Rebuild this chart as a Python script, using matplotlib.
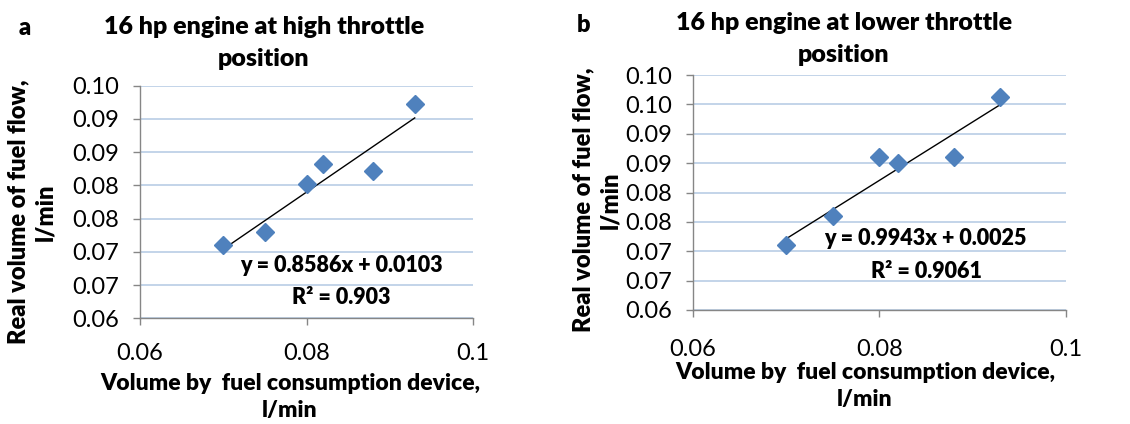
import matplotlib
matplotlib.use("Agg")
import matplotlib.pyplot as plt
import numpy as np

plt.rcParams['font.family'] = ['Lato', 'DejaVu Sans']

# ---- data ----
x_a = [0.070, 0.075, 0.080, 0.082, 0.088, 0.093]
y_a = [0.0711, 0.0730, 0.0802, 0.0832, 0.0821, 0.0922]
slope_a, intercept_a = 0.8586, 0.0103
eq_a = "y = 0.8586x + 0.0103"
r2_a = "R² = 0.903"
title_a = "16 hp engine at high throttle\nposition"

x_b = [0.070, 0.075, 0.080, 0.082, 0.088, 0.093]
y_b = [0.0711, 0.0760, 0.0861, 0.0851, 0.0861, 0.0962]
slope_b, intercept_b = 0.9943, 0.0025
eq_b = "y = 0.9943x + 0.0025"
r2_b = "R² = 0.9061"
title_b = "16 hp engine at lower throttle\nposition"

xticks = [0.06, 0.08, 0.10]
xtick_labels = ["0.06", "0.08", "0.1"]
yticks_a = [0.060, 0.065, 0.070, 0.075, 0.080, 0.085, 0.090, 0.095]
ytick_labels_a = ["0.06", "0.07", "0.07", "0.08", "0.08", "0.09", "0.09", "0.10"]
yticks_b = [0.060, 0.065, 0.070, 0.075, 0.080, 0.085, 0.090, 0.095, 0.100]
ytick_labels_b = ["0.06", "0.07", "0.07", "0.08", "0.08", "0.09", "0.09", "0.10", "0.10"]

xlabel = "Volume by  fuel consumption device,\nl/min"
ylabel = "Real volume of fuel flow,\nl/min"

W, H = 1130, 424
fig = plt.figure(figsize=(W / 100, H / 100), dpi=100)

MARKER_C = "#4F81BD"
GRID_C = "#B9CDE5"
SPINE_C = "#868686"
BOLD = 'heavy'


def px(x0, y0, x1, y1):
    return [x0 / W, 1 - y1 / H, (x1 - x0) / W, (y1 - y0) / H]


def panel(rect, xs, ys, slope, icpt, yticks, ylabels, eq, r2, eqpos, r2pos, xpad):
    ax = fig.add_axes(rect)
    ax.set_xlim(xticks[0], xticks[-1])
    ax.set_ylim(yticks[0], yticks[-1])
    ax.set_xticks(xticks)
    ax.set_xticklabels(xtick_labels)
    ax.set_yticks(yticks)
    ax.set_yticklabels(ylabels)
    ax.grid(axis='y', color=GRID_C, lw=1.2)
    ax.set_axisbelow(True)
    for s in ['top', 'right']:
        ax.spines[s].set_visible(False)
    for s in ['left', 'bottom']:
        ax.spines[s].set_color(SPINE_C)
        ax.spines[s].set_linewidth(1.0)
    ax.tick_params(axis='both', direction='out', length=5, width=1.0,
                   color=SPINE_C, labelsize=17, labelcolor='black')
    ax.tick_params(axis='y', pad=10)
    ax.tick_params(axis='x', pad=xpad)
    xa = np.array(xs)
    xl = np.array([xa.min(), xa.max()])
    ax.plot(xl, slope * xl + icpt, color='black', lw=1.0, zorder=2)
    ax.plot(xs, ys, linestyle='none', marker='D', ms=9, color=MARKER_C,
            mec=MARKER_C, zorder=3, clip_on=False)
    fig.text(eqpos[0] / W, 1 - eqpos[1] / H, eq, fontsize=15.5, fontweight=BOLD,
             ha='center', va='center')
    fig.text(r2pos[0] / W, 1 - r2pos[1] / H, r2, fontsize=15.5, fontweight=BOLD,
             ha='center', va='center')
    return ax


panel(px(140, 85.7, 473, 318.3), x_a, y_a, slope_a, intercept_a,
      yticks_a, ytick_labels_a, eq_a, r2_a, (341, 266), (341, 298), 13)
panel(px(692.7, 75, 1065.7, 310), x_b, y_b, slope_b, intercept_b,
      yticks_b, ytick_labels_b, eq_b, r2_b, (925, 238), (926, 271), 16)

# titles and panel letters
fig.text(264 / W, 1 - 43 / H, title_a, fontsize=18, fontweight=BOLD,
         ha='center', va='center', linespacing=1.6)
fig.text(844 / W, 1 - 39 / H, title_b, fontsize=18, fontweight=BOLD,
         ha='center', va='center', linespacing=1.6)
fig.text(25 / W, 1 - 28 / H, "a", fontsize=17, fontweight=BOLD,
         ha='center', va='center')
fig.text(583 / W, 1 - 25 / H, "b", fontsize=17, fontweight=BOLD,
         ha='center', va='center')

# axis labels
fig.text(32 / W, 1 - 212 / H, ylabel, fontsize=17, fontweight=BOLD,
         ha='center', va='center', rotation=90, linespacing=1.3)
fig.text(597 / W, 1 - 200 / H, ylabel, fontsize=17, fontweight=BOLD,
         ha='center', va='center', rotation=90, linespacing=1.3)
fig.text(290 / W, 1 - 397 / H, xlabel, fontsize=16.5, fontweight=BOLD,
         ha='center', va='center', linespacing=1.4)
fig.text(865 / W, 1 - 386 / H, xlabel, fontsize=16.5, fontweight=BOLD,
         ha='center', va='center', linespacing=1.4)

fig.savefig("out.png", dpi=100)
